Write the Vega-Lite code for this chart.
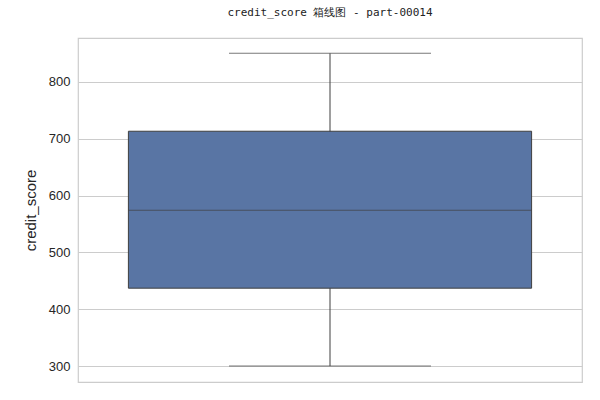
{
  "$schema": "https://vega.github.io/schema/vega-lite/v6.json",
  "autosize": "none",
  "width": 504,
  "height": 344,
  "padding": {"left": 78, "top": 38, "right": 18, "bottom": 18},
  "background": "white",
  "title": {"text": "credit_score 箱线图 - part-00014", "font": "DejaVu Sans Mono", "fontSize": 11, "fontWeight": "normal", "color": "#222", "offset": 9, "anchor": "middle", "frame": "group", "baseline": "bottom"},
  "config": {
    "view": {"stroke": "#cccccc", "strokeWidth": 1.2},
    "axis": {"labelFont": "Liberation Sans", "titleFont": "Liberation Sans", "labelColor": "#262626", "titleColor": "#262626"}
  },
  "data": {"values": [{"cat": "credit_score", "min": 300, "q1": 437, "median": 574, "q3": 713, "max": 850}]},
  "encoding": {
    "x": {"field": "cat", "type": "nominal", "scale": {"paddingInner": 0.2, "paddingOuter": 0.1}, "axis": null}
  },
  "layer": [
    {"mark": {"type": "rule", "color": "#3f3f3f"}, "encoding": {"y": {"field": "min", "type": "quantitative", "scale": {"domain": [272, 877], "nice": false, "zero": false}, "axis": {"title": "credit_score", "titleFontSize": 15, "titleFontWeight": "normal", "labelFontSize": 13, "values": [300, 400, 500, 600, 700, 800], "gridColor": "#cccccc", "domain": false, "ticks": false, "labelPadding": 8, "titlePadding": 10}}, "y2": {"field": "max"}}},
    {"mark": {"type": "bar", "color": "#5975a4", "stroke": "#3f3f3f", "strokeWidth": 1}, "encoding": {"y": {"field": "q1", "type": "quantitative"}, "y2": {"field": "q3"}}},
    {"mark": {"type": "tick", "color": "#3f3f3f", "size": 403, "thickness": 1}, "encoding": {"y": {"field": "median", "type": "quantitative"}}},
    {"mark": {"type": "tick", "color": "#3f3f3f", "size": 202, "thickness": 1}, "encoding": {"y": {"field": "min", "type": "quantitative"}}},
    {"mark": {"type": "tick", "color": "#3f3f3f", "size": 202, "thickness": 1}, "encoding": {"y": {"field": "max", "type": "quantitative"}}}
  ]
}
